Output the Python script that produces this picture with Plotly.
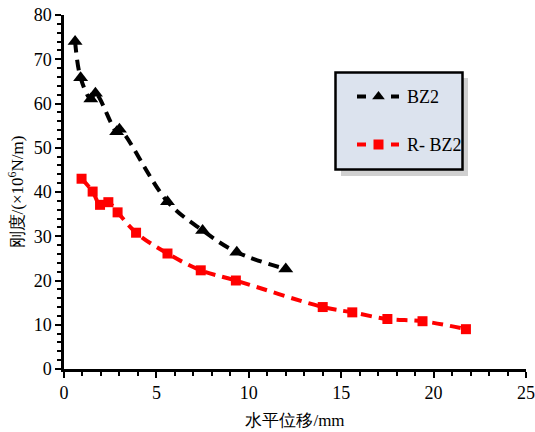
import plotly.graph_objects as go

# Stiffness vs. horizontal displacement for two specimens
bz2_disp = [0.6, 0.9, 1.45, 1.7, 2.85, 3.0, 5.6, 7.5, 9.35, 12.0]
bz2_stiff = [74.0, 65.8, 61.0, 62.3, 53.6, 54.2, 37.8, 31.3, 26.4, 22.6]

rbz2_disp = [0.95, 1.55, 1.95, 2.4, 2.9, 3.9, 5.6, 7.4, 9.3, 14.0, 15.6, 17.5, 19.4, 21.75]
rbz2_stiff = [43.0, 40.1, 37.1, 37.7, 35.4, 30.8, 26.1, 22.3, 20.0, 14.0, 12.8, 11.3, 10.8, 9.0]

series_names = ["BZ2", "R- BZ2"]
series_colors = ["#000000", "#ff0000"]

x_title = "水平位移/mm"
y_title = "刚度/(×10<sup>6</sup>N/m)"

FONT = "Liberation Serif"
DASH = "11px,7px"

fig = go.Figure()

fig.add_trace(go.Scatter(
    x=bz2_disp, y=bz2_stiff, mode="lines+markers", name=series_names[0],
    line=dict(color=series_colors[0], width=4, dash=DASH, shape="spline", smoothing=1.0),
    marker=dict(symbol="triangle-up", size=13, color=series_colors[0]),
    showlegend=False,
))
fig.add_trace(go.Scatter(
    x=rbz2_disp, y=rbz2_stiff, mode="lines+markers", name=series_names[1],
    line=dict(color=series_colors[1], width=4, dash=DASH, shape="spline", smoothing=1.0),
    marker=dict(symbol="square", size=10, color=series_colors[1]),
    showlegend=False,
))

# Hand-built legend box with drop shadow (paper coordinates)
W, H = 535, 432
ml, mr, mt, mb = 64, 9, 15, 63
pw, ph = W - ml - mr, H - mt - mb


def px(xp):
    return (xp - ml) / pw


def py(yp):
    return 1 - (yp - mt) / ph


shapes = [
    dict(type="rect", xref="paper", yref="paper",
         x0=px(341), x1=px(468), y0=py(176), y1=py(78),
         fillcolor="#b0b0b0", opacity=0.6, line=dict(width=0), layer="below"),
    dict(type="rect", xref="paper", yref="paper",
         x0=px(335.5), x1=px(462.5), y0=py(169.5), y1=py(72.5),
         fillcolor="#dce3ee", line=dict(color="black", width=2.5), layer="below"),
]
rows_y = [96.5, 144.5]
for yy, col in zip(rows_y, series_colors):
    for a, b in [(357, 366), (391, 399)]:
        shapes.append(dict(type="line", xref="paper", yref="paper",
                           x0=px(a), x1=px(b), y0=py(yy), y1=py(yy),
                           line=dict(color=col, width=4), layer="below"))

fig.add_trace(go.Scatter(
    x=[px(378.5)], y=[py(rows_y[0])], xaxis="x2", yaxis="y2", mode="markers",
    marker=dict(symbol="triangle-up", size=11, color=series_colors[0]),
    showlegend=False, hoverinfo="skip",
))
fig.add_trace(go.Scatter(
    x=[px(378.5)], y=[py(rows_y[1])], xaxis="x2", yaxis="y2", mode="markers",
    marker=dict(symbol="square", size=10, color=series_colors[1]),
    showlegend=False, hoverinfo="skip",
))

annotations = []
for yy, name in zip(rows_y, series_names):
    annotations.append(dict(
        x=px(405), y=py(yy), xref="paper", yref="paper", text=name,
        showarrow=False, xanchor="left", yanchor="middle",
        font=dict(family=FONT, size=18, color="black"),
    ))

axis_common = dict(
    showgrid=False, zeroline=False, showline=True, linecolor="black", linewidth=2.5,
    ticks="outside", ticklen=6, tickwidth=2, tickcolor="black", automargin=False,
    tickfont=dict(family=FONT, size=18, color="black"),
)

fig.update_layout(
    width=W, height=H,
    margin=dict(l=ml, r=mr, t=mt, b=mb),
    paper_bgcolor="white", plot_bgcolor="white",
    font=dict(family=FONT, color="black"),
    xaxis=dict(range=[0, 25], dtick=5, tick0=0,
               minor=dict(dtick=1, ticks="outside", ticklen=4, tickwidth=2, tickcolor="black"),
               title=dict(text=x_title, font=dict(family=FONT, size=17), standoff=12),
               **axis_common),
    yaxis=dict(range=[0, 80], dtick=10, tick0=0,
               minor=dict(dtick=2, ticks="outside", ticklen=4, tickwidth=2, tickcolor="black"),
               title=dict(text=y_title, font=dict(family=FONT, size=17), standoff=6),
               **axis_common),
    xaxis2=dict(overlaying="x", range=[0, 1], visible=False, automargin=False),
    yaxis2=dict(overlaying="y", range=[0, 1], visible=False, automargin=False),
    shapes=shapes,
    annotations=annotations,
)

fig.write_html("out.html")
